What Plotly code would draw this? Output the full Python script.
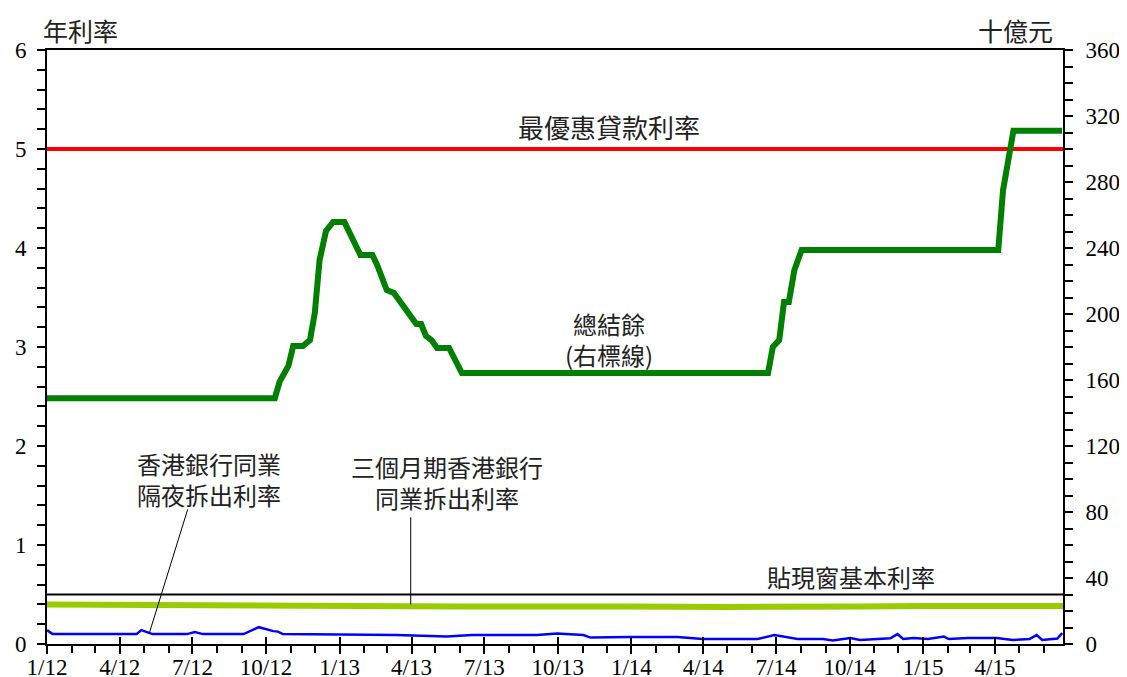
import plotly.graph_objects as go

# -------------------------------------------------------
# datos
# -------------------------------------------------------
rango_x = ["2012-01-01", "2015-06-25"]

tick_fechas = ["2012-01-01", "2012-04-01", "2012-07-01", "2012-10-01",
               "2013-01-01", "2013-04-01", "2013-07-01", "2013-10-01",
               "2014-01-01", "2014-04-01", "2014-07-01", "2014-10-01",
               "2015-01-01", "2015-04-01"]
tick_textos = ["1/12", "4/12", "7/12", "10/12", "1/13", "4/13", "7/13", "10/13",
               "1/14", "4/14", "7/14", "10/14", "1/15", "4/15"]

# 最優惠貸款利率 / 貼現窗基本利率
prime_fechas = ["2012-01-01", "2015-06-25"]
prime_vals = [5.0, 5.0]
descuento_fechas = ["2012-01-01", "2015-06-25"]
descuento_vals = [0.5, 0.5]

# 三個月期香港銀行同業拆出利率
hibor3m_fechas = ["2012-01-01", "2012-06-01", "2012-11-20", "2012-12-31", "2013-01-20",
                  "2013-06-01", "2013-10-01", "2014-01-01", "2014-05-01", "2014-07-01",
                  "2014-08-15", "2014-09-01", "2014-10-15", "2015-01-01", "2015-06-25"]
hibor3m_vals = [0.40, 0.40, 0.40, 0.39, 0.385, 0.38, 0.385, 0.38, 0.375, 0.375,
                0.365, 0.37, 0.38, 0.385, 0.385]

# 香港銀行同業隔夜拆出利率
hibor_on_fechas = ["2012-01-01", "2012-01-08", "2012-04-22", "2012-04-28", "2012-05-12",
                   "2012-06-24", "2012-07-04", "2012-07-14", "2012-09-03", "2012-09-22",
                   "2012-10-10", "2012-10-16", "2012-10-22", "2013-01-02", "2013-03-13",
                   "2013-05-15", "2013-06-16", "2013-09-05", "2013-09-30", "2013-11-02",
                   "2013-11-11", "2013-12-30", "2014-02-28", "2014-03-31", "2014-06-08",
                   "2014-06-29", "2014-07-28", "2014-08-29", "2014-09-10", "2014-10-02",
                   "2014-10-14", "2014-11-21", "2014-11-30", "2014-12-07", "2014-12-20",
                   "2015-01-07", "2015-01-27", "2015-02-02", "2015-02-26", "2015-04-03",
                   "2015-04-23", "2015-05-14", "2015-05-23", "2015-05-30", "2015-06-18",
                   "2015-06-24"]
hibor_on_vals = [0.14, 0.10, 0.10, 0.14, 0.10,
                 0.10, 0.12, 0.10, 0.10, 0.17,
                 0.13, 0.125, 0.10, 0.095, 0.09,
                 0.075, 0.09, 0.09, 0.105, 0.09,
                 0.065, 0.07, 0.07, 0.05, 0.05,
                 0.09, 0.05, 0.05, 0.035, 0.06,
                 0.04, 0.058, 0.10, 0.05, 0.06,
                 0.05, 0.075, 0.05, 0.06, 0.06,
                 0.04, 0.05, 0.09, 0.04, 0.055,
                 0.11]

# 總結餘 (十億元, 右標線)
balance_fechas = ["2012-01-01", "2012-10-12", "2012-10-18", "2012-10-24", "2012-10-29",
                  "2012-11-04", "2012-11-16", "2012-11-25", "2012-12-01", "2012-12-07",
                  "2012-12-15", "2012-12-24", "2013-01-07", "2013-01-27", "2013-02-11",
                  "2013-02-17", "2013-02-25", "2013-03-01", "2013-03-10", "2013-03-20",
                  "2013-04-02", "2013-04-07", "2013-04-13", "2013-04-19", "2013-04-26",
                  "2013-05-03", "2013-05-18", "2013-05-24", "2013-06-03", "2014-06-21",
                  "2014-06-27", "2014-07-05", "2014-07-11", "2014-07-17", "2014-07-24",
                  "2014-08-02", "2015-04-05", "2015-04-11", "2015-04-24", "2015-06-24"]
balance_vals = [149.0, 149.0, 159.0, 165.0, 168.5,
                180.6, 180.6, 184.2, 200.6, 232.7,
                250.3, 255.8, 255.8, 235.8, 235.8,
                229.7, 219.4, 214.5, 212.7, 205.5,
                197.6, 193.9, 193.9, 186.7, 184.2,
                179.4, 179.4, 173.9, 164.2, 164.2,
                180.0, 184.2, 207.3, 207.3, 226.7,
                238.8, 238.8, 275.0, 311.0, 311.0]

# -------------------------------------------------------
# gráfica
# -------------------------------------------------------
fuente_num = "Times New Roman, Liberation Serif, DejaVu Serif, serif"
fuente_cjk = "Noto Sans CJK TC"

fig = go.Figure()

fig.add_trace(go.Scatter(x=prime_fechas, y=prime_vals, mode="lines",
                         line=dict(color="#FF0000", width=4), name="最優惠貸款利率"))
fig.add_trace(go.Scatter(x=descuento_fechas, y=descuento_vals, mode="lines", xaxis="x2",
                         line=dict(color="black", width=2), name="貼現窗基本利率"))
fig.add_trace(go.Scatter(x=hibor3m_fechas, y=hibor3m_vals, mode="lines",
                         line=dict(color="#99CC00", width=6), name="三個月期香港銀行同業拆出利率"))
fig.add_trace(go.Scatter(x=hibor_on_fechas, y=hibor_on_vals, mode="lines",
                         line=dict(color="#0000FF", width=2.5), name="香港銀行同業隔夜拆出利率"))
fig.add_trace(go.Scatter(x=balance_fechas, y=balance_vals, mode="lines", yaxis="y2",
                         line=dict(color="#008000", width=6), name="總結餘"))

eje_comun = dict(showgrid=False, zeroline=False, color="black", automargin=False,
                 tickfont=dict(family=fuente_num, size=23, color="black"))

# la página deja 8px de margen en el body: el lienzo se ajusta a eso
fig.update_layout(
    width=1119, height=669,
    margin=dict(l=39, r=64, t=42, b=33),
    font=dict(family=fuente_num, color="black"),
    plot_bgcolor="white", paper_bgcolor="white",
    showlegend=False,
    xaxis=dict(type="date", range=rango_x, tickmode="array",
               tickvals=tick_fechas, ticktext=tick_textos,
               ticks="outside", ticklen=8, tickwidth=2, tickcolor="black",
               ticklabelstandoff=-7,
               minor=dict(dtick="M1", tick0="2012-01-01", ticks="outside",
                          ticklen=7, tickwidth=2, tickcolor="black"),
               showline=True, linewidth=2, linecolor="black", mirror=True,
               **eje_comun),
    xaxis2=dict(type="date", range=rango_x, overlaying="x", anchor="y", side="bottom",
                tickmode="array", tickvals=tick_fechas, showticklabels=False,
                ticks="inside", ticklen=7, tickwidth=2, tickcolor="black",
                showline=False, showgrid=False, zeroline=False, automargin=False),
    yaxis=dict(range=[0, 6], dtick=1, ticks="outside", ticklen=8, tickwidth=2,
               tickcolor="black", ticklabelstandoff=6,
               minor=dict(dtick=0.2, ticks="outside", ticklen=8, tickwidth=2,
                          tickcolor="black"),
               showline=True, linewidth=2, linecolor="black", **eje_comun),
    yaxis2=dict(range=[0, 360], dtick=40, overlaying="y", side="right", anchor="x",
                ticks="outside", ticklen=8, tickwidth=2, tickcolor="black",
                ticklabelstandoff=8,
                minor=dict(dtick=10, ticks="outside", ticklen=8, tickwidth=2,
                           tickcolor="black"),
                showline=True, linewidth=2, linecolor="black", **eje_comun),
)

# títulos de ejes
fig.add_annotation(text="年利率", xref="paper", yref="paper", x=-0.006, y=1.034,
                   xanchor="left", yanchor="middle", showarrow=False,
                   font=dict(family=fuente_cjk, size=25, color="#222"))
fig.add_annotation(text="十億元", xref="paper", yref="paper", x=0.992, y=1.034,
                   xanchor="right", yanchor="middle", showarrow=False,
                   font=dict(family=fuente_cjk, size=25, color="#222"))

# etiquetas de series
etiquetas = [
    ("最優惠貸款利率", "2013-12-04", 5.23, 26),
    ("總結餘<br>(右標線)", "2013-12-04", 3.08, 24),
    ("香港銀行同業<br>隔夜拆出利率", "2012-07-22", 1.668, 24),
    ("三個月期香港銀行<br>同業拆出利率", "2013-05-16", 1.633, 24),
    ("貼現窗基本利率", "2014-10-03", 0.68, 24),
]
for texto, fx, fy, tam in etiquetas:
    fig.add_annotation(text=texto, x=fx, y=fy, xref="x", yref="y", showarrow=False,
                       align="center",
                       font=dict(family=fuente_cjk, size=tam, color="#222"))

# líneas guía
fig.add_shape(type="line", xref="x", yref="y", x0="2012-06-25", y0=1.36,
              x1="2012-05-08", y1=0.11, line=dict(color="black", width=1))
fig.add_shape(type="line", xref="x", yref="y", x0="2013-03-31", y0=1.28,
              x1="2013-03-31", y1=0.40, line=dict(color="black", width=1))

fig.write_html("out.html")
